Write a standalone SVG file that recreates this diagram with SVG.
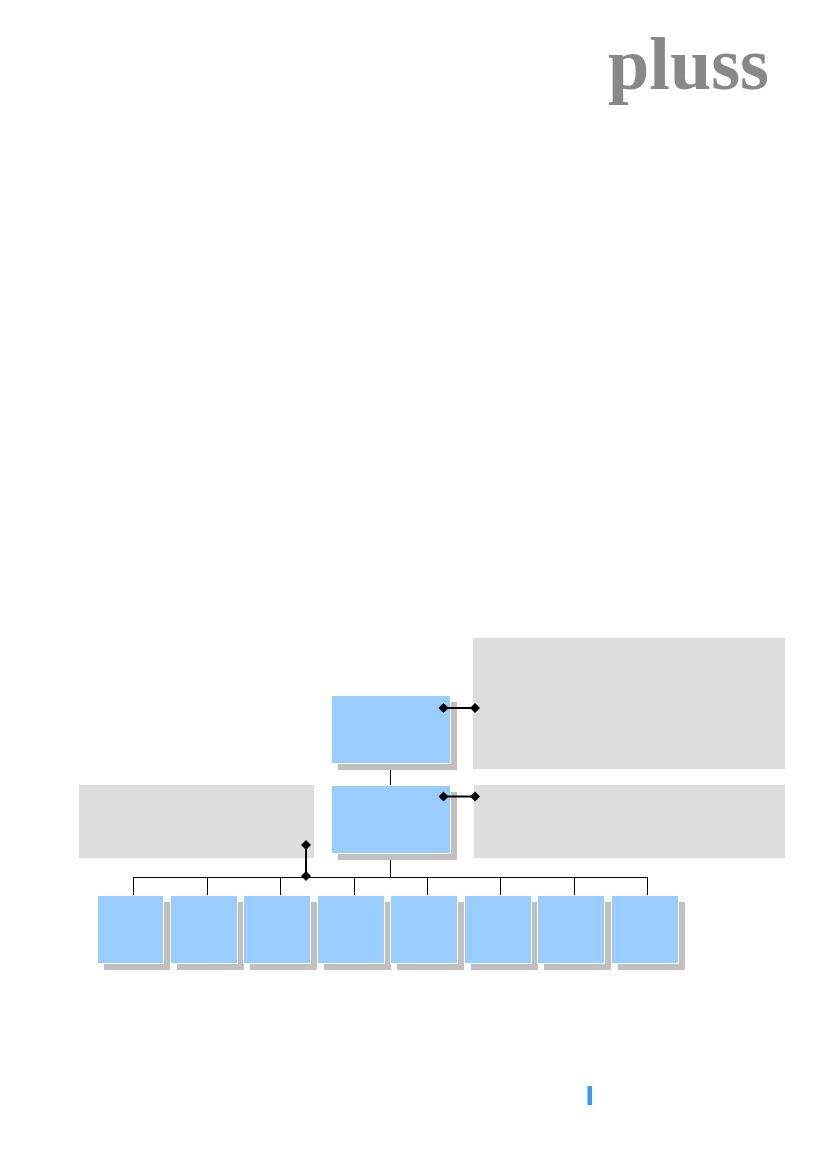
<svg xmlns="http://www.w3.org/2000/svg" width="827" height="1169" viewBox="0 0 827 1169">
<style>
.note{fill:#dddddd}
.shadow{fill:#c0c0c0}
.box{fill:#99ccff;stroke:#ffffff;stroke-width:1}
.line{fill:none;stroke:#000000;stroke-width:1}
.link{fill:none;stroke:#000000;stroke-width:2}
.dot{fill:#000000}
.logo{font-family:"Liberation Serif",serif;font-size:74px;font-weight:700;fill:#888888}
</style>
<defs>
<polygon id="d" class="dot" points="0,-5 5,0 0,5 -5,0"/>
</defs>
<rect width="827" height="1169" fill="#ffffff"/>
<text class="logo" x="608" y="89" textLength="161" lengthAdjust="spacingAndGlyphs">pluss</text>
<rect id="note-top-right" class="note" x="473" y="638" width="312" height="131"/>
<rect id="note-mid-right" class="note" x="474" y="785" width="311" height="73"/>
<rect id="note-mid-left" class="note" x="79" y="785" width="235" height="73"/>
<g id="connectors">
<path class="line" d="M390.500 764V786M390.500 854V877M133.500 877.500H647.500M133.500 877V896M207.500 877V896M280.500 877V896M354.500 877V896M427.500 877V896M500.500 877V896M574.500 877V896M647.500 877V896"/>
</g>
<g id="node-1"><rect class="shadow" x="338" y="702" width="119" height="68"/><rect class="box" x="331.500" y="695.500" width="119" height="68"/></g>
<g id="node-2"><rect class="shadow" x="338" y="792" width="119" height="68"/><rect class="box" x="331.500" y="785.500" width="119" height="68"/></g>
<g id="child-1"><rect class="shadow" x="104" y="902" width="66" height="68"/><rect class="box" x="97.500" y="895.500" width="66" height="68"/></g>
<g id="child-2"><rect class="shadow" x="177" y="902" width="67" height="68"/><rect class="box" x="170.500" y="895.500" width="67" height="68"/></g>
<g id="child-3"><rect class="shadow" x="250" y="902" width="67" height="68"/><rect class="box" x="243.500" y="895.500" width="67" height="68"/></g>
<g id="child-4"><rect class="shadow" x="324" y="902" width="67" height="68"/><rect class="box" x="317.500" y="895.500" width="67" height="68"/></g>
<g id="child-5"><rect class="shadow" x="397" y="902" width="67" height="68"/><rect class="box" x="390.500" y="895.500" width="67" height="68"/></g>
<g id="child-6"><rect class="shadow" x="471" y="902" width="67" height="68"/><rect class="box" x="464.500" y="895.500" width="67" height="68"/></g>
<g id="child-7"><rect class="shadow" x="544" y="902" width="67" height="68"/><rect class="box" x="537.500" y="895.500" width="67" height="68"/></g>
<g id="child-8"><rect class="shadow" x="618" y="902" width="67" height="68"/><rect class="box" x="611.500" y="895.500" width="67" height="68"/></g>
<g id="links">
<path class="link" d="M443.500 708H475M443.500 796.500H475M306 845V876"/>
<use href="#d" x="443.500" y="708"/><use href="#d" x="475" y="708"/>
<use href="#d" x="443.500" y="796.500"/><use href="#d" x="475" y="796.500"/>
<use href="#d" x="306" y="845"/><use href="#d" x="306" y="876"/>
</g>
<rect id="page-mark" x="587.500" y="1086" width="4.500" height="19" fill="#3399ff"/>
</svg>
